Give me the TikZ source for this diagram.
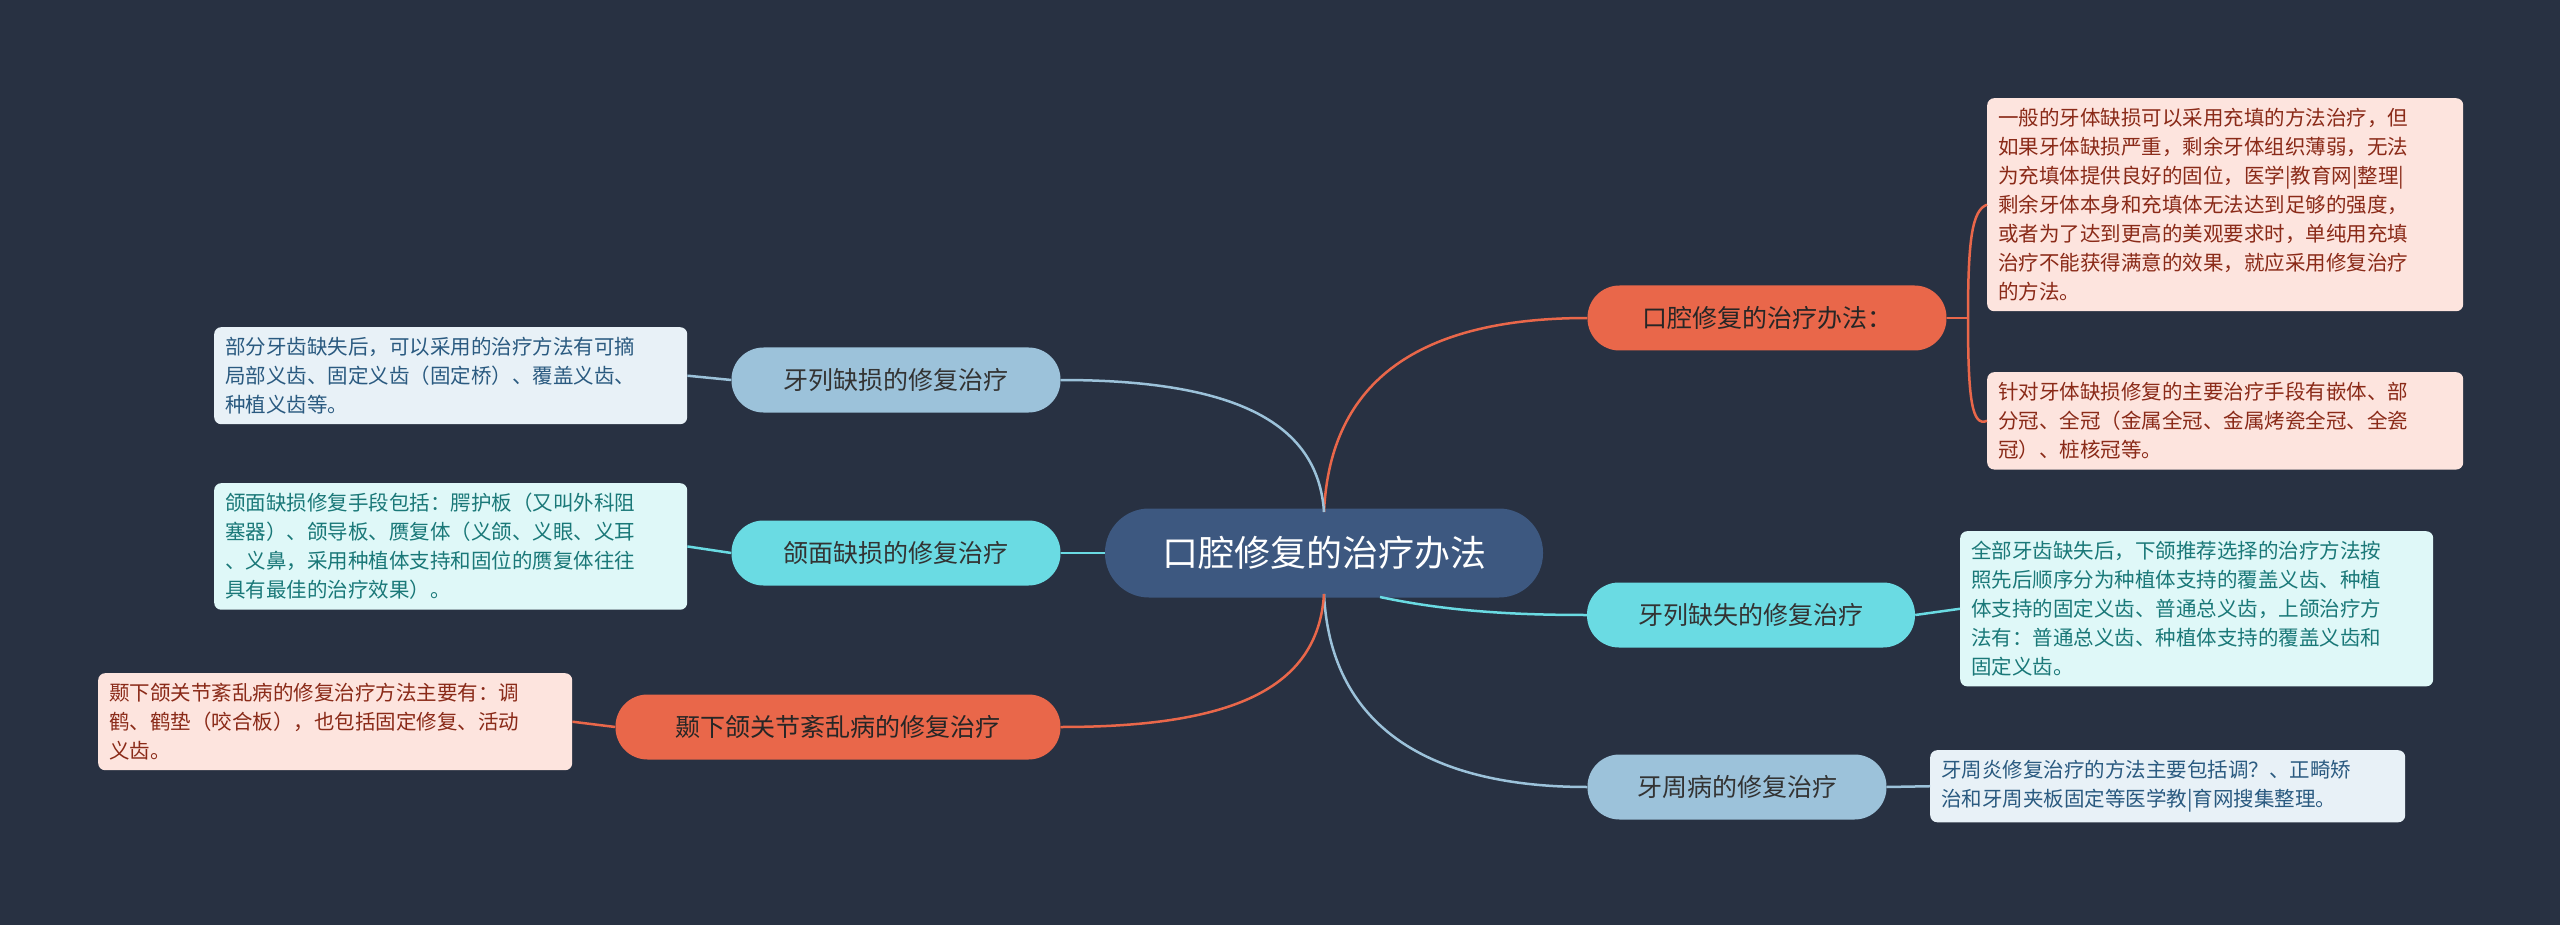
\documentclass[tikz,border=0pt]{standalone}
\usepackage{fontspec}
\setmainfont{Noto Sans CJK SC}
\begin{document}
\begin{tikzpicture}[x=1pt,y=-1pt,
  every node/.style={inner sep=0pt},
  root/.style={rounded corners=44pt,fill=rootc,minimum width=438pt,minimum height=89pt,text=white,font=\fontsize{36}{40}\selectfont},
  br/.style={rounded corners=32pt,minimum height=65pt,font=\fontsize{25}{30}\selectfont},
  ora/.style={br,fill=orc,text=black!85},
  cya/.style={br,fill=cyc,text=black!80},
  blu/.style={br,fill=buc,text=black!80},
  leaf/.style={rounded corners=7pt,anchor=north west,align=left,inner xsep=11pt,inner ysep=10pt,font=\fontsize{20.5}{29}\selectfont},
  lo/.style={leaf,fill=lof,text=lot},
  lc/.style={leaf,fill=lcf,text=lct},
  lb/.style={leaf,fill=lbf,text=lbt},
  ol/.style={draw=orc,line width=2.5pt},
  cl/.style={draw=cyc,line width=2.5pt},
  bl/.style={draw=buc,line width=2.5pt}]
\definecolor{bg}{HTML}{283142}
\definecolor{rootc}{HTML}{3D5880}
\definecolor{orc}{HTML}{E9674A}
\definecolor{cyc}{HTML}{6ADBE3}
\definecolor{buc}{HTML}{9CC2DA}
\definecolor{lof}{HTML}{FDE4DE}
\definecolor{lot}{HTML}{8A2A18}
\definecolor{lcf}{HTML}{DFF8F8}
\definecolor{lct}{HTML}{1A7878}
\definecolor{lbf}{HTML}{E8F1F7}
\definecolor{lbt}{HTML}{2A5A80}
\fill[bg] (0,0) rectangle (2560,925);
\useasboundingbox (0,0) rectangle (2560,925);
\node[root] (c) at (1324,553) {口腔修复的治疗办法};
\node[ora,minimum width=359pt] (r1) at (1767,318) {口腔修复的治疗办法：};
\node[cya,minimum width=328pt] (r2) at (1751,615) {牙列缺失的修复治疗};
\node[blu,minimum width=299pt] (r3) at (1737,787) {牙周病的修复治疗};
\node[blu,minimum width=329pt] (l1) at (896,380) {牙列缺损的修复治疗};
\node[cya,minimum width=329pt] (l2) at (896,553) {颌面缺损的修复治疗};
\node[ora,minimum width=445pt] (l3) at (838,727) {颞下颌关节紊乱病的修复治疗};
\node[lo,text width=454pt] (a1) at (1987,98) {一般的牙体缺损可以采用充填的方法治疗，但\\如果牙体缺损严重，剩余牙体组织薄弱，无法\\为充填体提供良好的固位，医学|教育网|整理|\\剩余牙体本身和充填体无法达到足够的强度，\\或者为了达到更高的美观要求时，单纯用充填\\治疗不能获得满意的效果，就应采用修复治疗\\的方法。};
\node[lo,text width=454pt] (a2) at (1987,372) {针对牙体缺损修复的主要治疗手段有嵌体、部\\分冠、全冠（金属全冠、金属烤瓷全冠、全瓷\\冠）、桩核冠等。};
\node[lc,text width=451pt] (b1) at (1960,531) {全部牙齿缺失后，下颌推荐选择的治疗方法按\\照先后顺序分为种植体支持的覆盖义齿、种植\\体支持的固定义齿、普通总义齿，上颌治疗方\\法有：普通总义齿、种植体支持的覆盖义齿和\\固定义齿。};
\node[lb,text width=453pt] (d1) at (1930,750) {牙周炎修复治疗的方法主要包括调？、正畸矫\\治和牙周夹板固定等医学教|育网搜集整理。};
\node[lb,text width=451pt] (e1) at (214,327) {部分牙齿缺失后，可以采用的治疗方法有可摘\\局部义齿、固定义齿（固定桥）、覆盖义齿、\\种植义齿等。};
\node[lc,text width=451pt] (f1) at (214,483) {颌面缺损修复手段包括：腭护板（又叫外科阻\\塞器）、颌导板、赝复体（义颌、义眼、义耳\\、义鼻，采用种植体支持和固位的赝复体往往\\具有最佳的治疗效果）。};
\node[lo,text width=452pt] (g1) at (98,673) {颞下颌关节紊乱病的修复治疗方法主要有：调\\鹤、鹤垫（咬合板），也包括固定修复、活动\\义齿。};
\coordinate (ct) at (1324,512);
\coordinate (cb) at (1324,594);
\draw[ol] (ct) .. controls (1330,380) and (1420,318) .. (r1.west);
\draw[cl] (1380,597) .. controls (1450,612) and (1520,615) .. (r2.west);
\draw[bl] (cb) .. controls (1330,720) and (1420,787) .. (r3.west);
\draw[bl] (l1.east) .. controls (1230,380) and (1318,420) .. (ct);
\draw[cl] (l2.east) -- (c.west);
\draw[ol] (l3.east) .. controls (1230,727) and (1318,690) .. (cb);
\draw[ol] (r1.east) -- (1968,318);
\draw[ol] (a1.west) .. controls (1972,210) and (1968,240) .. (1968,318) .. controls (1968,400) and (1972,427) .. (a2.west);
\draw[cl] (r2.east) -- (b1.west);
\draw[bl] (r3.east) -- (d1.west);
\draw[bl] (e1.east) -- (l1.west);
\draw[cl] (f1.east) -- (l2.west);
\draw[ol] (g1.east) -- (l3.west);
\end{tikzpicture}
\end{document}
